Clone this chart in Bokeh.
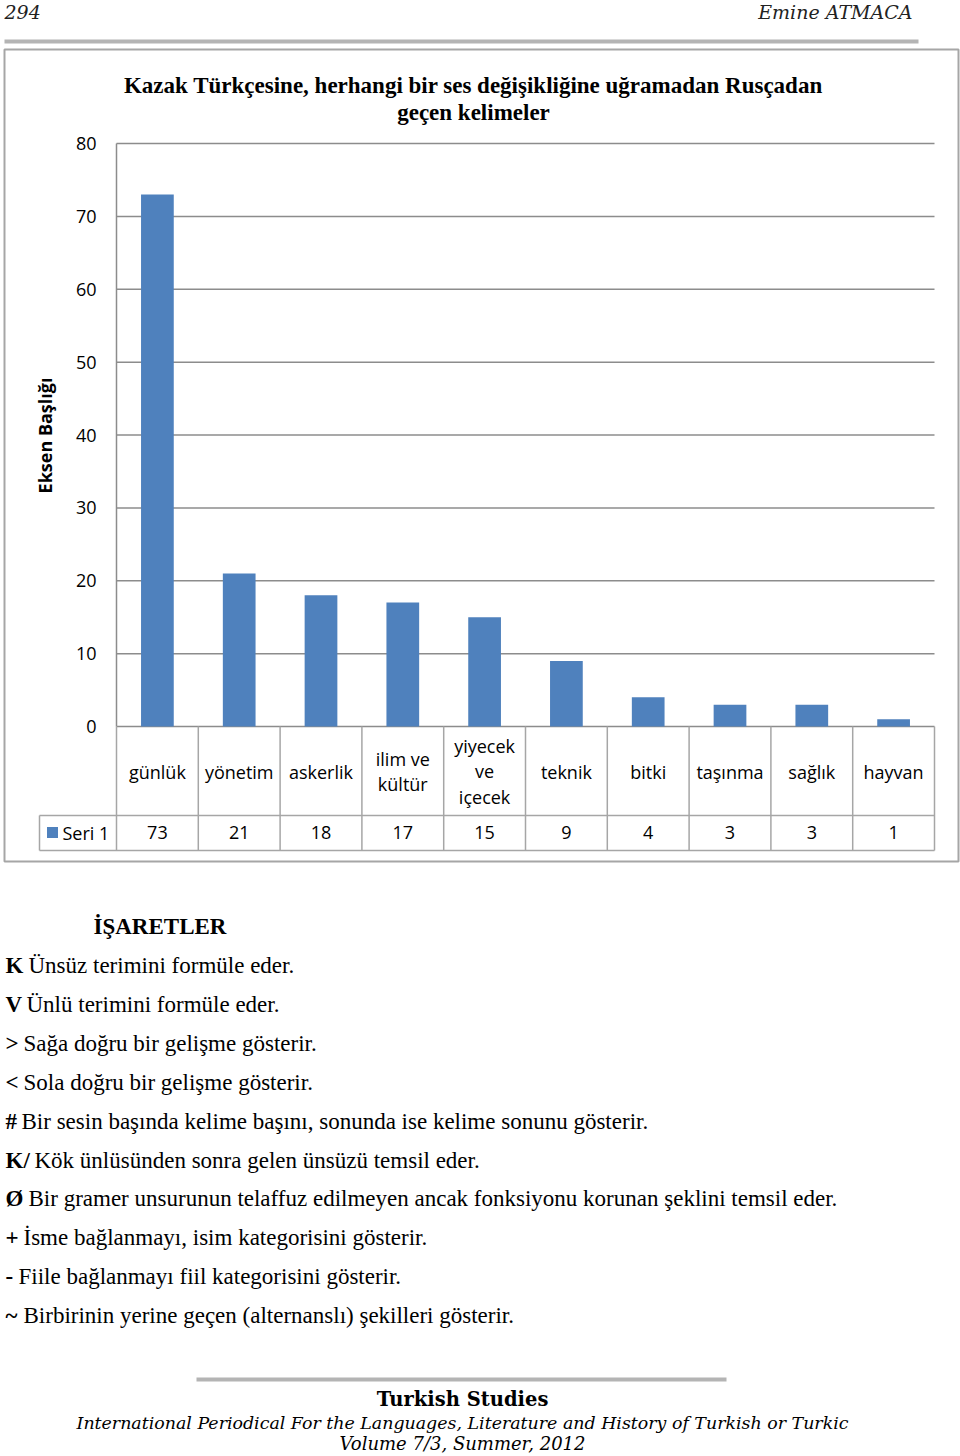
import math
from bokeh.plotting import figure
from bokeh.models import Range1d
from bokeh.core.properties import value
from bokeh.embed import file_html
from bokeh.resources import INLINE

# ---- data ----
categories = ["günlük", "yönetim", "askerlik", "ilim ve\nkültür", "yiyecek\nve\niçecek",
              "teknik", "bitki", "taşınma", "sağlık", "hayvan"]
values = [73, 21, 18, 17, 15, 9, 4, 3, 3, 1]
y_ticks = [0, 10, 20, 30, 40, 50, 60, 70, 80]
series_name = "Seri 1"
chart_title = "Kazak Türkçesine, herhangi bir ses değişikliğine uğramadan Rusçadan\ngeçen kelimeler"
axis_title = "Eksen Başlığı"
page_number = "294"
author = "Emine ATMACA"
notes_heading = "İŞARETLER"
note_marks = ["K", "V", ">", "<", "#", "K/", "Ø", "+", "-", "~"]
note_texts = ["Ünsüz terimini formüle eder.",
              "Ünlü terimini formüle eder.",
              "Sağa doğru bir gelişme gösterir.",
              "Sola doğru bir gelişme gösterir.",
              "Bir sesin başında kelime başını, sonunda ise kelime sonunu gösterir.",
              "Kök ünlüsünden sonra gelen ünsüzü temsil eder.",
              "Bir gramer unsurunun telaffuz edilmeyen ancak fonksiyonu korunan şeklini temsil eder.",
              "İsme bağlanmayı, isim kategorisini gösterir.",
              "Fiile bağlanmayı fiil kategorisini gösterir.",
              "Birbirinin yerine geçen (alternanslı) şekilleri gösterir."]
journal = "Turkish Studies"
journal_sub = "International Periodical For the Languages, Literature and History of Turkish or Turkic"
journal_vol = "Volume 7/3, Summer, 2012"

# ---- geometry (page pixels) ----
W, H = 960, 1456
PL, PR, PT, PB = 116, 934, 143, 726
n = len(categories)
cw = (PR - PL) / n
ymax = y_ticks[-1]
unit = (PB - PT) / ymax

p = figure(width=W, height=H, x_range=Range1d(0, W), y_range=Range1d(H, 0),
           min_border=0, min_border_left=0, min_border_right=0, min_border_top=0, min_border_bottom=0,
           toolbar_location=None, output_backend="svg", outline_line_color=None,
           x_axis_location=None, y_axis_location=None, title=None)
p.grid.visible = False
p.background_fill_color = "white"
p.border_fill_color = "white"
p.extra_x_ranges = {"cat": Range1d(-PL / cw, (W - PL) / cw)}
p.extra_y_ranges = {"val": Range1d(-(H - PB) / unit, PB / unit)}

SERIF = value("Liberation Serif")
SANS = value("Open Sans")
SCHOOL = value("DejaVu Serif")
GRAY = "#a6a6a6"
BLUE = "#4f81bd"

# header
p.text(x=[4], y=[11], text=[page_number], text_font=SCHOOL, text_font_style="italic",
       text_font_size="19px", text_baseline="middle", text_align="left", text_color="#222222")
p.text(x=[912], y=[11], text=[author], text_font=SCHOOL, text_font_style="italic",
       text_font_size="19px", text_baseline="middle", text_align="right", text_color="#222222")
p.segment(x0=[4], x1=[918], y0=[41], y1=[41], line_color="#b4b4b4", line_width=4)

# chart box
p.quad(left=[4], right=[958], top=[49], bottom=[861], fill_color="white",
       line_color=GRAY, line_width=2)

# title
p.text(x=[473], y=[98.5], text=[chart_title], text_font=SERIF, text_font_style="bold",
       text_font_size="23px", text_baseline="middle", text_align="center",
       text_line_height=1.1, text_color="black")

# gridlines
p.segment(x0=[0] * len(y_ticks), x1=[n] * len(y_ticks), y0=y_ticks, y1=y_ticks,
          x_range_name="cat", y_range_name="val", line_color="#8c8c8c", line_width=1.5)
p.segment(x0=[0], x1=[0], y0=[0], y1=[ymax], x_range_name="cat", y_range_name="val",
          line_color="#8c8c8c", line_width=1.5)

# bars
p.vbar(x=[i + 0.5 for i in range(n)], top=values, bottom=0, width=0.4,
       fill_color=BLUE, line_color=None, x_range_name="cat", y_range_name="val")

# y tick labels
p.text(x=[96] * len(y_ticks), y=y_ticks, text=[str(t) for t in y_ticks], y_range_name="val",
       text_font=SANS, text_font_size="18px", text_align="right", text_baseline="middle",
       text_color="black")

# axis title
p.text(x=[44], y=[435], text=[axis_title], angle=math.pi / 2, text_font=SANS,
       text_font_style="bold", text_font_size="18px", text_align="center",
       text_baseline="middle", text_color="black")

# data table
bounds = list(range(n + 1))
p.segment(x0=bounds, x1=bounds, y0=[PB] * (n + 1), y1=[850] * (n + 1), x_range_name="cat",
          line_color=GRAY, line_width=1.5)
p.segment(x0=[39, 39], x1=[PR, PR], y0=[815, 850], y1=[815, 850], line_color=GRAY, line_width=1.5)
p.segment(x0=[39], x1=[39], y0=[815], y1=[850], line_color=GRAY, line_width=1.5)
p.text(x=[i + 0.5 for i in range(n)], y=[771] * n, text=categories, x_range_name="cat",
       text_font=SANS, text_font_size="18px", text_align="center", text_baseline="middle",
       text_line_height=1.05, text_color="black")
p.text(x=[i + 0.5 for i in range(n)], y=[832] * n, text=[str(v) for v in values],
       x_range_name="cat", text_font=SANS, text_font_size="18px", text_align="center",
       text_baseline="middle", text_color="black")
p.rect(x=[52], y=[832], width=11, height=11, fill_color=BLUE, line_color=None)
p.text(x=[62], y=[832], text=[series_name], text_font=SANS, text_font_size="18px",
       text_align="left", text_baseline="middle", text_color="black")

# notes
p.text(x=[93], y=[926], text=[notes_heading], text_font=SERIF, text_font_style="bold",
       text_font_size="23px", text_align="left", text_baseline="middle", text_color="black")
note_y = [965, 1004, 1043, 1082, 1121, 1160, 1198, 1237, 1276, 1315]
note_x = [28, 26, 23, 23, 21, 34, 28, 23, 18, 23]
p.text(x=[5] * len(note_marks), y=note_y, text=note_marks, text_font=SERIF,
       text_font_style="bold", text_font_size="23px", text_align="left",
       text_baseline="middle", text_color="black")
p.text(x=note_x, y=note_y, text=note_texts, text_font=SERIF, text_font_size="23px",
       text_align="left", text_baseline="middle", text_color="black")

# footer
p.segment(x0=[196], x1=[726], y0=[1379], y1=[1379], line_color="#b4b4b4", line_width=4)
p.text(x=[462], y=[1399], text=[journal], text_font=SCHOOL, text_font_style="bold",
       text_font_size="19.5px", text_align="center", text_baseline="middle", text_color="black")
p.text(x=[462], y=[1422], text=[journal_sub], text_font=SCHOOL, text_font_style="italic",
       text_font_size="17.4px", text_align="center", text_baseline="middle", text_color="black")
p.text(x=[462], y=[1443], text=[journal_vol], text_font=SCHOOL, text_font_style="italic",
       text_font_size="18px", text_align="center", text_baseline="middle", text_color="black")

open("out.html", "w").write(file_html(p, INLINE))
